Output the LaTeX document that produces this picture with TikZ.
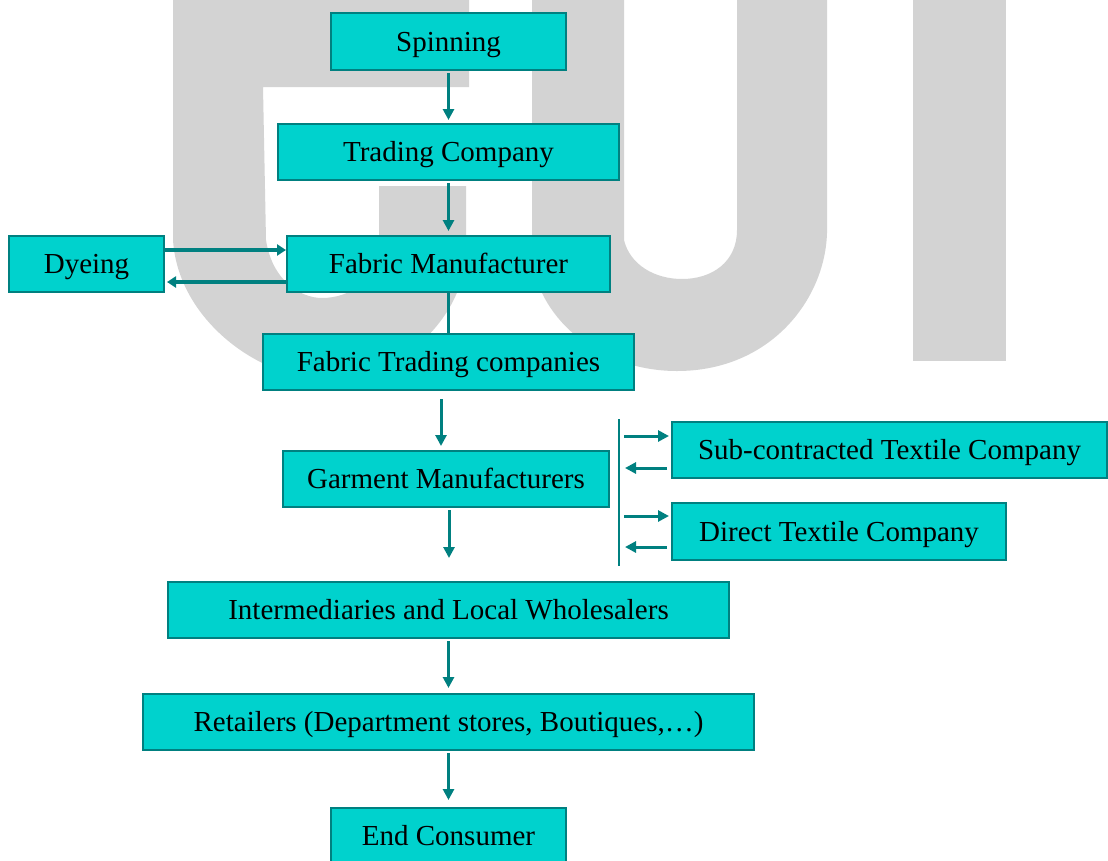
\documentclass[tikz,border=0pt]{standalone}
\usepackage{fontspec}
\setmainfont{Liberation Serif}
\usetikzlibrary{arrows.meta}
\definecolor{boxfill}{RGB}{0,210,205}
\definecolor{tealc}{RGB}{0,128,128}
\definecolor{wm}{RGB}{211,211,211}
\begin{document}
\begin{tikzpicture}[x=1pt,y=-1pt,
  box/.style={draw=tealc,line width=2pt,fill=boxfill,inner sep=0pt,
    text height=20pt,text depth=1pt,
    font=\fontsize{29}{34}\selectfont},
  arr/.style={draw=tealc,line width=3pt,-{Triangle[length=11pt,width=11pt]}},
  harr/.style={draw=tealc,line width=3.5pt,-{Triangle[length=9pt,width=11pt]}},
  ln/.style={draw=tealc,line width=3pt},
  sep/.style={draw=tealc,line width=2pt}]
\useasboundingbox (0,0) rectangle (1108,860);
\clip (0,0) rectangle (1108,860);
% watermark shapes
\fill[wm] (173,0) -- (469,0) -- (469,87) -- (263,87) -- (266,240)
  .. controls (272,280) and (300,298) .. (322,298)
  .. controls (350,298) and (379,280) .. (379,240)
  -- (379,186) -- (466,186) -- (466,250)
  .. controls (466,310) and (410,375) .. (330,380)
  .. controls (260,380) and (178,320) .. (173,240) -- cycle;
\fill[wm] (532,0) -- (624,0) -- (624,240)
  .. controls (630,265) and (655,279) .. (682,279)
  .. controls (712,279) and (737,262) .. (737,230)
  -- (737,0) -- (827,0) -- (827,233)
  .. controls (825,300) and (770,371) .. (677,371)
  .. controls (600,371) and (540,320) .. (532,260) -- cycle;
\fill[wm] (913,0) rectangle (1006,361);
% boxes
\node[box,minimum width=235pt,minimum height=57pt] (sp) at (448.5,41.5) {Spinning};
\node[box,minimum width=341pt,minimum height=56pt] (tc) at (448.5,152) {Trading Company};
\node[box,minimum width=155pt,minimum height=56pt] (dy) at (86.5,264) {Dyeing};
\node[box,minimum width=323pt,minimum height=56pt] (fm) at (448.5,264) {Fabric Manufacturer};
\node[box,minimum width=371pt,minimum height=56pt] (ft) at (448.5,362) {Fabric Trading companies};
\node[box,minimum width=326pt,minimum height=56pt] (gm) at (446,479) {Garment Manufacturers};
\node[box,minimum width=435pt,minimum height=56pt] (sc) at (889.5,450) {Sub-contracted Textile Company};
\node[box,minimum width=334pt,minimum height=57pt] (dt) at (839,531.5) {Direct Textile Company};
\node[box,minimum width=561pt,minimum height=56pt] (im) at (448.5,610) {Intermediaries and Local Wholesalers};
\node[box,minimum width=611pt,minimum height=56pt] (rt) at (448.5,722) {Retailers (Department stores, Boutiques,…)};
\node[box,minimum width=235pt,minimum height=56pt] (ec) at (448.5,836) {End Consumer};
% connectors
\draw[arr,shorten <=2pt,shorten >=3pt] (sp.south) -- (tc.north);
\draw[arr,shorten <=2pt,shorten >=4pt] (tc.south) -- (fm.north);
\draw[harr] ([yshift=14pt]dy.east) -- ([yshift=14pt]fm.west);
\draw[harr,shorten >=2pt] ([yshift=-18pt]fm.west) -- ([yshift=-18pt]dy.east);
\draw[ln] (fm.south) -- (ft.north);
\draw[arr] ([xshift=-7.5pt,yshift=-8pt]ft.south) -- ([xshift=-5pt,yshift=4pt]gm.north);
\coordinate (gmend) at (449,558);
\draw[arr] ([xshift=3pt,yshift=-2pt]gm.south) -- (gmend);
\draw[arr,shorten <=2pt,shorten >=5pt] (im.south) -- (rt.north);
\draw[arr,shorten <=2pt,shorten >=7pt] (rt.south) -- (ec.north);
\coordinate (vt) at (619,419);
\coordinate (vb) at (619,566);
\draw[sep] (vt) -- (vb);
\draw[arr] ([xshift=-47pt,yshift=14pt]sc.west) -- ([xshift=-2pt,yshift=14pt]sc.west);
\draw[arr] ([xshift=-4pt,yshift=-18pt]sc.west) -- ([xshift=-46pt,yshift=-18pt]sc.west);
\draw[arr] ([xshift=-47pt,yshift=15.5pt]dt.west) -- ([xshift=-2pt,yshift=15.5pt]dt.west);
\draw[arr] ([xshift=-4pt,yshift=-15.5pt]dt.west) -- ([xshift=-46pt,yshift=-15.5pt]dt.west);
\end{tikzpicture}
\end{document}
